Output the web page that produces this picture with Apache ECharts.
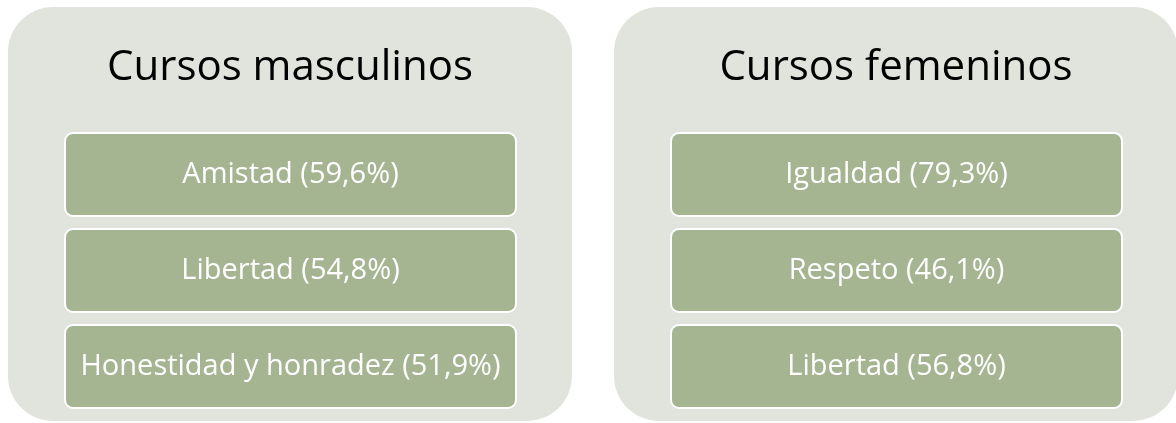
<!DOCTYPE html>
<html lang="en">
<head>
    <meta charset="UTF-8" />
    <title>Valores por curso</title>
    <script src="https://cdn.jsdelivr.net/npm/echarts@6/dist/echarts.min.js"></script>
    <style>
        html, body { margin: 0; padding: 0; background: #fff; }
        #main { width: 1176px; height: 423px; }
    </style>
</head>
<body>
    <div id="main"></div>
    <script>
        // datos
        const groupTitles = ['Cursos masculinos', 'Cursos femeninos'];
        const maleValues = ['Amistad', 'Libertad', 'Honestidad y honradez'];
        const malePercents = ['59,6', '54,8', '51,9'];
        const femaleValues = ['Igualdad', 'Respeto', 'Libertad'];
        const femalePercents = ['79,3', '46,1', '56,8'];

        var chartDom = document.getElementById('main');
        var myChart = echarts.init(chartDom, null, { renderer: 'canvas' });

        const panelX = [8, 614];
        const panelW = 564;
        const boxOffset = 57;
        const boxW = 451;
        const boxTops = [133, 229, 325];
        const boxH = 83;
        const fontFamily = '"Open Sans", "Noto Sans", sans-serif';

        let elements = [];
        let groups = [
            { names: maleValues, pct: malePercents },
            { names: femaleValues, pct: femalePercents }
        ];

        groups.forEach(function (g, gi) {
            let x0 = panelX[gi];
            // panel de fondo
            elements.push({
                type: 'rect',
                shape: { x: x0, y: 7, width: panelW, height: 414, r: 45 },
                style: { fill: '#e1e4dc' }
            });
            // titulo
            elements.push({
                type: 'text',
                x: x0 + panelW / 2,
                y: 68,
                style: {
                    text: groupTitles[gi],
                    fill: '#000',
                    font: '42px ' + fontFamily,
                    align: 'center',
                    verticalAlign: 'middle'
                }
            });
            g.names.forEach(function (name, i) {
                elements.push({
                    type: 'rect',
                    shape: { x: x0 + boxOffset, y: boxTops[i], width: boxW, height: boxH, r: 8 },
                    style: { fill: '#a5b592', stroke: '#ffffff', lineWidth: 2 }
                });
                elements.push({
                    type: 'text',
                    x: x0 + boxOffset + boxW / 2,
                    y: boxTops[i] + boxH / 2,
                    style: {
                        text: name + ' (' + g.pct[i] + '%)',
                        fill: '#ffffff',
                        font: '29px ' + fontFamily,
                        align: 'center',
                        verticalAlign: 'middle'
                    }
                });
            });
        });

        myChart.setOption({
            animation: false,
            graphic: { elements: elements }
        });
    </script>
</body>
</html>
